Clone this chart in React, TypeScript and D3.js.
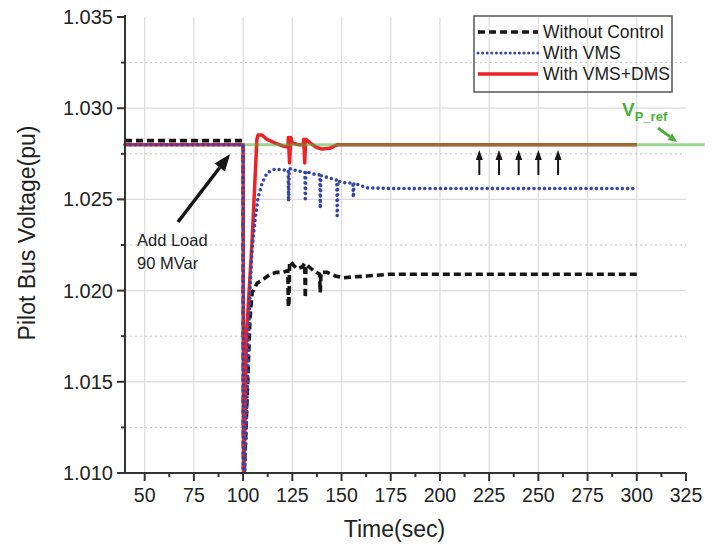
import React, { useEffect, useRef } from 'react';
import * as d3 from 'd3';

// --- chart data ---
const xTicks = [50, 75, 100, 125, 150, 175, 200, 225, 250, 275, 300, 325];
const xMinorTicks = [62.5, 87.5, 112.5, 137.5, 162.5, 187.5, 212.5, 237.5, 262.5, 287.5, 312.5];
const yTicks = [1.010, 1.015, 1.020, 1.025, 1.030, 1.035];
const yMinorTicks = [1.0125, 1.0175, 1.0225, 1.0275, 1.0325];

const seriesNames = ['Without Control', 'With VMS', 'With VMS+DMS'];

const noCtrlTime = [40, 100, 100.2, 102, 103.5, 104.6, 107.1, 110, 113.8, 117, 120.4, 122.7, 123, 123.3, 123.6, 124.2, 125.5, 127.5, 130, 131.3, 131.6, 131.9, 132.6, 135.6, 138.8, 139.2, 139.6, 142.7, 146.8, 150.9, 156, 163, 175, 300];
const noCtrlVolt = [1.02822, 1.02822, 1.0088, 1.0140, 1.0185, 1.0199, 1.0204, 1.0206, 1.0209, 1.0210, 1.0210, 1.0211, 1.0191, 1.0193, 1.0215, 1.0216, 1.0214, 1.0212, 1.0213, 1.0215, 1.0196, 1.0214, 1.0214, 1.0211, 1.0209, 1.0199, 1.0210, 1.0210, 1.0208, 1.0207, 1.02075, 1.0208, 1.0209, 1.0209];

const vmsTime = [40, 100, 100.2, 101.5, 102.5, 103.5, 104.5, 106.1, 107.6, 109.7, 112.2, 116.3, 120.4, 122.9, 123.1, 123.4, 124, 127.5, 131.4, 131.6, 131.9, 135, 139, 139.2, 139.5, 143, 147.6, 147.8, 148.1, 152, 155.8, 156, 156.3, 163, 175, 300];
const vmsVolt = [1.0280, 1.0280, 1.0085, 1.0120, 1.0160, 1.0200, 1.0222, 1.0239, 1.0251, 1.0259, 1.02645, 1.02667, 1.02661, 1.0266, 1.0249, 1.0266, 1.02668, 1.02656, 1.0265, 1.0249, 1.02655, 1.0264, 1.02634, 1.0245, 1.0263, 1.0262, 1.02606, 1.0241, 1.0260, 1.0259, 1.0259, 1.0251, 1.0259, 1.02563, 1.0256, 1.0256];

const dmsTime = [40, 100, 100.2, 101.3, 101.8, 102.8, 104.6, 106, 107, 107.6, 109.6, 112, 116, 120, 122.8, 123, 123.6, 124.2, 125, 128, 130.5, 130.8, 131.3, 131.8, 134, 137, 140, 144, 148, 300];
const dmsVolt = [1.0280, 1.0280, 1.0088, 1.0151, 1.0178, 1.0195, 1.0228, 1.0260, 1.0283, 1.02853, 1.02853, 1.0283, 1.0281, 1.02793, 1.02787, 1.0284, 1.0270, 1.0284, 1.0281, 1.0280, 1.0280, 1.0283, 1.0270, 1.0283, 1.0281, 1.02787, 1.02776, 1.0278, 1.0280, 1.0280];

const refTime = [100, 334.5];
const refVolt = [1.028, 1.028];

// annotation anchors, in data units
const loadArrow = { from: [66.9, 1.02376], to: [93.4, 1.02749] };
const loadText = { t: 46.1, v: [1.02244, 1.02118], lines: ['Add Load', '90 MVar'] };
const upArrowTimes = [220, 230, 240, 250, 260];
const upArrowVolt = [1.02634, 1.02771];
const refLabel = { t: 292.5, v: 1.02957 };
const refArrow = { from: [310.8, 1.02891], to: [320.5, 1.02815] };

const FONT = '"Liberation Sans", Arial, Helvetica, sans-serif';

const drawArrow = (g, x1, y1, x2, y2, color, width, headLen, headW) => {
  const ang = Math.atan2(y2 - y1, x2 - x1);
  const bx = x2 - headLen * Math.cos(ang);
  const by = y2 - headLen * Math.sin(ang);
  g.append('line').attr('x1', x1).attr('y1', y1).attr('x2', bx).attr('y2', by)
    .attr('stroke', color).attr('stroke-width', width);
  const px = Math.sin(ang) * headW / 2, py = -Math.cos(ang) * headW / 2;
  g.append('path')
    .attr('d', `M${x2},${y2}L${bx + px},${by + py}L${bx - px},${by - py}Z`)
    .attr('fill', color);
};

const App = () => {
  const ref = useRef(null);

  useEffect(() => {
    const svg = d3.select(ref.current);
    svg.selectAll('*').remove();

    const x = d3.scaleLinear().domain([40, 325]).range([125, 686]);
    const y = d3.scaleLinear().domain([1.010, 1.035]).range([473, 17]);
    const [x0, x1] = x.range();
    const [yb, yt] = y.range();

    // grid
    const grid = svg.append('g');
    grid.selectAll('.vg').data(xTicks.filter(d => d < 325)).enter().append('line')
      .attr('x1', d => x(d)).attr('x2', d => x(d)).attr('y1', yt).attr('y2', yb)
      .attr('stroke', '#dcdcdc').attr('stroke-width', 1.2);
    grid.selectAll('.hg').data(yTicks.filter(d => d > 1.010 && d < 1.035)).enter().append('line')
      .attr('x1', x0).attr('x2', x1).attr('y1', d => y(d)).attr('y2', d => y(d))
      .attr('stroke', '#dcdcdc').attr('stroke-width', 1.2);
    grid.selectAll('.hm').data(yMinorTicks).enter().append('line')
      .attr('x1', x0).attr('x2', x1).attr('y1', d => y(d)).attr('y2', d => y(d))
      .attr('stroke', '#c4c4c4').attr('stroke-width', 1).attr('stroke-dasharray', '2,3');

    // series (black underneath, blue dots on top)
    const line = d3.line().x(d => x(d[0])).y(d => y(d[1]));
    const zip = (ts, vs) => ts.map((t, i) => [t, vs[i]]);

    svg.append('path').datum(zip(noCtrlTime, noCtrlVolt)).attr('d', line)
      .attr('fill', 'none').attr('stroke', '#151515').attr('stroke-width', 3.6)
      .attr('stroke-dasharray', '7,4');
    svg.append('path').datum(zip(dmsTime, dmsVolt)).attr('d', line)
      .attr('fill', 'none').attr('stroke', '#ec2226').attr('stroke-width', 3.5).attr('stroke-linejoin', 'round');
    svg.append('path').datum(zip(refTime, refVolt)).attr('d', line)
      .attr('fill', 'none').attr('stroke', '#4fae3c').attr('stroke-opacity', 0.55).attr('stroke-width', 3);
    svg.append('path').datum(zip(vmsTime, vmsVolt)).attr('d', line)
      .attr('fill', 'none').attr('stroke', '#3446a8').attr('stroke-width', 3.6)
      .attr('stroke-linecap', 'round').attr('stroke-dasharray', '0,5.2');

    // cover the part below the axis
    svg.append('rect').attr('x', 0).attr('y', yb + 1).attr('width', 723).attr('height', 547 - yb)
      .attr('fill', '#fff');

    // axes
    const ax = svg.append('g').attr('stroke', '#333');
    ax.append('line').attr('x1', x0).attr('x2', x0).attr('y1', yt - 2).attr('y2', yb + 1).attr('stroke-width', 2);
    ax.append('line').attr('x1', x0 - 1).attr('x2', x1).attr('y1', yb).attr('y2', yb).attr('stroke-width', 2);
    ax.selectAll('.yt').data(yTicks).enter().append('line')
      .attr('x1', x0 - 8).attr('x2', x0).attr('y1', d => y(d)).attr('y2', d => y(d)).attr('stroke-width', 2);
    ax.selectAll('.ym').data(yMinorTicks).enter().append('line')
      .attr('x1', x0 - 4).attr('x2', x0).attr('y1', d => y(d)).attr('y2', d => y(d)).attr('stroke-width', 2);
    ax.selectAll('.xt').data(xTicks).enter().append('line')
      .attr('x1', d => x(d)).attr('x2', d => x(d)).attr('y1', yb).attr('y2', yb + 8).attr('stroke-width', 2);
    ax.selectAll('.xm').data(xMinorTicks).enter().append('line')
      .attr('x1', d => x(d)).attr('x2', d => x(d)).attr('y1', yb).attr('y2', yb + 4).attr('stroke-width', 2);

    const labels = svg.append('g').attr('font-family', FONT).attr('fill', '#222');
    labels.selectAll('.yl').data(yTicks).enter().append('text')
      .attr('x', x0 - 12).attr('y', d => y(d) + 7).attr('text-anchor', 'end')
      .attr('font-size', 20).text(d => d3.format('.3f')(d));
    labels.selectAll('.xl').data(xTicks).enter().append('text')
      .attr('x', d => x(d)).attr('y', yb + 29).attr('text-anchor', 'middle')
      .attr('font-size', 19.5).text(d => d);
    labels.append('text').attr('x', (x0 + x1) / 2 - 11).attr('y', 537).attr('text-anchor', 'middle')
      .attr('font-size', 23).text('Time(sec)');
    labels.append('text').attr('transform', `translate(35,233) rotate(-90)`).attr('text-anchor', 'middle')
      .attr('font-size', 23).text('Pilot Bus Voltage(pu)');

    // legend
    const lg = svg.append('g').attr('font-family', FONT);
    lg.append('rect').attr('x', 474).attr('y', 16).attr('width', 198).attr('height', 76)
      .attr('fill', 'none').attr('stroke', '#555').attr('stroke-width', 1.5);
    const styles = [
      { stroke: '#151515', w: 3.6, dash: '7,4', cap: 'butt' },
      { stroke: '#3446a8', w: 3, dash: '0,4.6', cap: 'round' },
      { stroke: '#ec2226', w: 3.5, dash: null, cap: 'butt' },
    ];
    seriesNames.forEach((name, i) => {
      const yy = 32 + i * 21;
      const s = styles[i];
      lg.append('line').attr('x1', 478).attr('x2', 538).attr('y1', yy).attr('y2', yy)
        .attr('stroke', s.stroke).attr('stroke-width', s.w).attr('stroke-linecap', s.cap)
        .attr('stroke-dasharray', s.dash);
      lg.append('text').attr('x', 543).attr('y', yy + 6).attr('font-size', 17.5).attr('fill', '#222').text(name);
    });

    // annotations
    const ann = svg.append('g').attr('font-family', FONT);
    drawArrow(ann, x(loadArrow.from[0]), y(loadArrow.from[1]), x(loadArrow.to[0]), y(loadArrow.to[1]),
      '#151515', 3.5, 17, 13);
    loadText.lines.forEach((txt, i) => {
      ann.append('text').attr('x', x(loadText.t)).attr('y', y(loadText.v[i])).attr('font-size', 16.5)
        .attr('fill', '#222').text(txt);
    });
    upArrowTimes.forEach(t => {
      drawArrow(ann, x(t), y(upArrowVolt[0]), x(t), y(upArrowVolt[1]), '#151515', 2, 10, 7);
    });
    const vt = ann.append('text').attr('x', x(refLabel.t)).attr('y', y(refLabel.v))
      .attr('fill', '#4cae3c').attr('font-weight', 'bold');
    vt.append('tspan').attr('font-size', 19).text('V');
    vt.append('tspan').attr('font-size', 13).attr('dy', 5).text('P_ref');
    drawArrow(ann, x(refArrow.from[0]), y(refArrow.from[1]), x(refArrow.to[0]), y(refArrow.to[1]),
      '#4cae3c', 3, 9, 8);
  }, []);

  return (
    <svg ref={ref} width={723} height={547}
      style={{ position: 'absolute', left: 0, top: 0, background: '#fff' }} />
  );
};

export default App;
